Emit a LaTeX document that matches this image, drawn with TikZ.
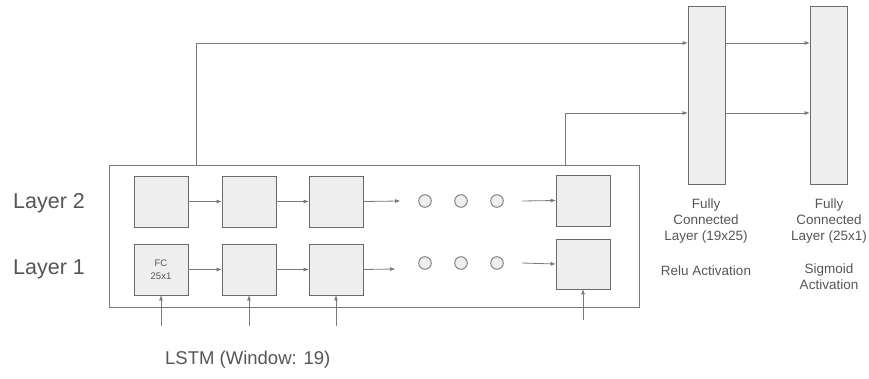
\documentclass[tikz,border=0pt]{standalone}
\usepackage{fontspec}
\setmainfont{Liberation Sans}
\usetikzlibrary{arrows.meta}
\definecolor{boxfill}{HTML}{EEEEEE}
\definecolor{boxline}{HTML}{6A6A6A}
\definecolor{wire}{HTML}{7A7A7A}
\definecolor{txt}{HTML}{555555}
\tikzset{
  cell/.style={draw=boxline, fill=boxfill, line width=0.9pt, minimum width=54pt, minimum height=51pt, inner sep=0pt, font=\fontsize{9.5}{12.5}\selectfont, text=txt, align=center},
  fcbox/.style={draw=boxline, fill=boxfill, line width=0.9pt, minimum width=37pt, minimum height=178pt, inner sep=0pt},
  dot/.style={circle, draw=wire, fill=boxfill, line width=0.9pt, minimum size=12.6pt, inner sep=0pt},
  wirearrow/.style={draw=wire, line width=0.8pt, -{Triangle[length=5pt,width=3.5pt]}},
  lbl/.style={text=txt, inner sep=0pt},
}
\begin{document}
\begin{tikzpicture}[x=1pt,y=-1pt]
\useasboundingbox (0,0) rectangle (869,379);
% outer LSTM box
\node[draw=wire, line width=0.9pt, minimum width=530pt, minimum height=142pt, inner sep=0pt] (lstm) at (374,236) {};
% layer 2 cells
\node[cell] (b21) at (161,201.5) {};
\node[cell] (b22) at (249,201.5) {};
\node[cell] (b23) at (336,201.5) {};
\node[cell] (b2L) at (583,200.5) {};
% layer 1 cells
\node[cell] (b11) at (161,269.5) {FC\\25x1};
\node[cell] (b12) at (249,269.5) {};
\node[cell] (b13) at (336,269.5) {};
\node[cell, minimum height=50pt] (b1L) at (583,264) {};
% dots
\node[dot] (d21) at (425,201) {};
\node[dot] (d22) at (461,201) {};
\node[dot] (d23) at (497,201) {};
\node[dot] (d11) at (425,263) {};
\node[dot] (d12) at (461,263) {};
\node[dot] (d13) at (497,263) {};
% fully connected layers
\node[fcbox] (fc1) at (706.5,95) {};
\node[fcbox] (fc2) at (828.5,95) {};
% free ends
\coordinate (e2) at (400,201);
\coordinate (e1) at (395,269);
\coordinate (s2) at (522,201);
\coordinate (s1) at (522,263);
\coordinate (i1) at (161,326);
\coordinate (i2) at (249,326);
\coordinate (i3) at (336,326);
\coordinate (i4) at (583,320);
\coordinate (t1) at (196,165);
\coordinate (t2) at (565,165);
% horizontal arrows
\draw[wirearrow] (b21.east) -- (b22.west);
\draw[wirearrow] (b22.east) -- (b23.west);
\draw[wirearrow] (b23.east) -- (e2);
\draw[wirearrow] (s2) -- (b2L.west);
\draw[wirearrow] (b11.east) -- (b12.west);
\draw[wirearrow] (b12.east) -- (b13.west);
\draw[wirearrow] (b13.east) -- (e1);
\draw[wirearrow] (s1) -- (b1L.west);
% inputs
\draw[wirearrow] (i1) -- (b11.south);
\draw[wirearrow] (i2) -- (b12.south);
\draw[wirearrow] (i3) -- (b13.south);
\draw[wirearrow] (i4) -- (b1L.south);
% to fully connected
\draw[wirearrow] (t1) |- (fc1.west |- 0,43);
\draw[wirearrow] (t2) |- (fc1.west |- 0,113);
\draw[wirearrow] (fc1.east |- 0,43) -- (fc2.west |- 0,43);
\draw[wirearrow] (fc1.east |- 0,113) -- (fc2.west |- 0,113);
% labels
\node[lbl, font=\fontsize{21.5}{26}\selectfont, anchor=west] (l2) at (13,203) {Layer 2};
\node[lbl, font=\fontsize{21.5}{26}\selectfont, anchor=west] (l1) at (13,269) {Layer 1};
\node[lbl, font=\fontsize{18.5}{22}\selectfont, anchor=west] (lt) at (165,360) {LSTM (Window: 19)};
\node[lbl, font=\fontsize{13.5}{16}\selectfont, align=center, anchor=north] (f1t) at (706,199) {Fully\\Connected\\Layer (19x25)};
\node[lbl, font=\fontsize{13.5}{16}\selectfont, anchor=center] (f1a) at (706,271) {Relu Activation};
\node[lbl, font=\fontsize{13.5}{16}\selectfont, align=center, anchor=north] (f2t) at (829,199) {Fully\\Connected\\Layer (25x1)};
\node[lbl, font=\fontsize{13.5}{16}\selectfont, align=center, anchor=north] (f2a) at (829,264) {Sigmoid\\Activation};
\end{tikzpicture}
\end{document}
